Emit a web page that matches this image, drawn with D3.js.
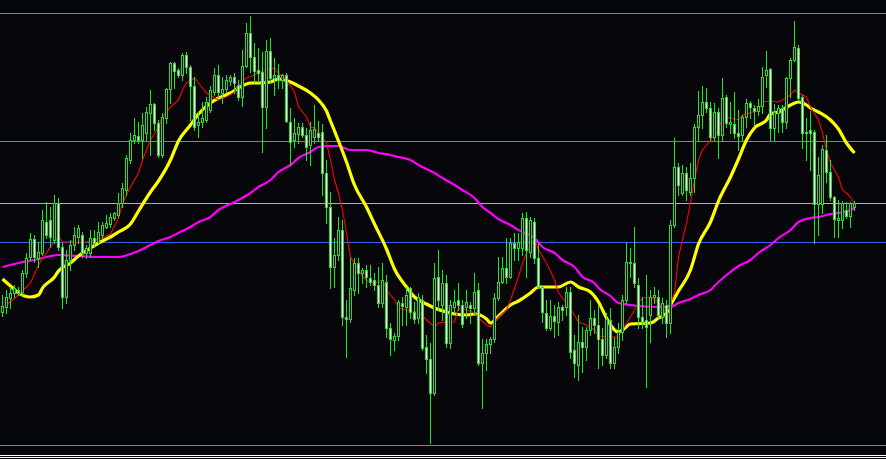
<!DOCTYPE html>
<html><head><meta charset="utf-8">
<script src="https://cdn.jsdelivr.net/npm/d3@7"></script>
<style>html,body{margin:0;padding:0;background:#07060a;overflow:hidden}svg{display:block}</style>
</head><body><svg id="chart" width="886" height="459"></svg>
<script>
// ---- Data (price in points) ----
const opens = [188,193,202,207,210,208,227,243,261,242,247,278,280,260,297,253,203,240,255,263,265,247,247,262,258,265,273,276,282,285,297,310,340,360,364,360,367,387,396,377,345,382,411,437,430,425,445,433,414,375,378,380,390,408,425,407,411,419,423,415,403,434,467,443,430,428,393,449,422,425,420,425,378,360,366,373,365,355,363,367,368,327,293,233,245,270,183,181,210,237,227,230,222,220,215,197,218,172,160,164,197,193,212,188,182,200,153,141,107,223,195,217,157,193,200,195,193,195,192,210,137,147,156,161,202,218,232,223,257,252,252,282,248,278,242,213,187,172,184,178,193,193,208,150,135,158,153,170,182,175,161,145,180,137,153,168,200,238,237,215,183,180,185,203,203,183,195,177,275,333,307,327,308,322,373,385,398,392,363,388,365,403,376,376,367,365,383,397,392,389,394,425,431,372,387,392,378,422,440,452,403,367,370,368,296,296,350,328,303,280,280,290,284,293];
const highs = [205,210,213,215,213,230,247,267,265,258,290,298,293,305,302,257,250,260,273,275,268,255,270,270,278,278,285,287,288,307,317,345,367,382,378,387,393,410,397,380,387,412,438,438,432,447,448,435,423,388,398,403,414,432,435,423,425,425,427,420,450,477,484,457,452,448,460,462,442,436,426,427,392,382,377,377,372,378,395,379,376,340,308,262,283,280,200,242,242,242,232,235,235,227,233,237,225,177,167,200,203,213,213,198,207,205,165,157,237,250,230,225,200,210,217,200,210,198,227,217,161,161,163,207,243,243,262,262,267,267,287,288,283,282,257,215,200,200,195,198,195,213,213,165,185,173,173,200,190,195,172,187,192,163,177,205,257,252,273,222,203,225,210,213,210,202,200,280,362,337,335,333,337,376,409,414,412,398,397,392,422,405,398,408,390,385,401,399,395,401,433,449,432,396,395,395,423,442,479,455,405,382,389,370,343,355,365,340,304,300,299,298,298,299];
const lows = [184,187,192,203,205,205,223,240,238,233,245,262,253,257,250,192,197,230,250,257,243,242,243,253,257,262,272,273,280,283,293,305,337,357,357,342,360,345,370,343,343,377,397,412,423,420,427,380,370,363,373,378,388,405,403,397,408,415,407,400,394,433,428,418,418,348,372,417,405,412,412,378,335,353,357,363,340,335,357,360,305,277,212,213,240,175,143,178,205,207,217,213,215,210,193,193,163,145,150,160,175,175,182,177,177,150,127,57,105,190,180,153,152,187,190,173,182,177,188,135,92,130,147,158,200,217,217,222,240,240,245,223,243,237,212,178,170,170,163,165,180,185,142,123,120,128,140,165,167,132,135,142,132,132,147,160,197,223,213,172,172,113,158,197,182,177,163,167,273,305,305,300,305,308,360,372,388,360,360,342,360,373,367,362,350,360,373,382,375,385,387,413,360,360,368,368,372,403,439,400,352,340,330,257,265,287,318,300,263,263,272,282,273,290];
const closes = [194,203,207,212,207,227,242,261,243,248,280,265,263,297,253,203,240,255,265,272,247,252,262,257,268,275,277,283,287,297,312,342,360,365,360,375,388,396,377,345,383,411,437,429,425,445,433,414,373,378,382,398,410,425,408,411,420,423,417,403,434,467,443,429,427,393,449,422,425,420,425,379,358,367,373,365,353,370,371,363,327,293,233,245,270,183,181,212,237,227,230,223,218,215,197,220,172,161,164,198,194,205,188,181,203,152,141,107,222,200,217,157,195,198,195,176,198,192,208,137,147,156,161,202,218,232,223,257,252,258,282,250,280,242,213,188,172,184,179,193,190,208,148,137,158,153,170,182,175,161,145,181,137,153,168,200,238,237,217,183,178,173,203,205,185,197,177,275,333,315,327,310,322,373,385,398,392,363,388,365,402,377,378,367,364,383,397,393,389,394,423,430,372,388,392,378,422,440,453,402,367,368,367,296,325,351,328,303,281,282,297,284,297,297];

// moving averages, read as [bar, price]
const maYellow = [[0,221],[2,214],[4,207],[7,203],[9,205],[10,212],[13,223],[14,229],[17,237],[19,244],[22,252],[24,257],[27,263],[29,268],[32,276],[34,289],[37,308],[39,319],[42,340],[44,359],[47,375],[49,386],[52,397],[54,402],[57,407],[59,412],[62,417],[64,417],[67,418],[69,421],[72,418],[74,414],[77,407],[79,400],[81,389],[82,379],[84,359],[86,338],[88,315],[91,293],[93,276],[96,251],[98,231],[101,213],[103,203],[106,196],[108,192],[111,188],[113,186],[116,185],[118,186],[121,181],[122,177],[124,184],[127,195],[129,199],[132,207],[134,213],[137,213],[139,213],[142,218],[144,213],[147,208],[149,198],[151,182],[152,175],[154,168],[155,170],[157,176],[162,177],[164,182],[166,187],[167,195],[169,209],[172,230],[174,256],[177,278],[179,299],[182,323],[184,341],[186,360],[188,372],[191,380],[192,386],[194,388],[197,395],[199,398],[201,395],[202,392],[204,388],[207,380],[209,371],[211,357],[213,347]];
const maMagenta = [[0,233],[4,237],[9,241],[12,244],[14,245],[19,244],[24,243],[29,243],[32,246],[34,249],[37,255],[39,259],[42,263],[44,267],[47,273],[49,278],[52,283],[54,290],[57,296],[59,300],[62,307],[64,313],[67,320],[69,328],[72,335],[74,342],[77,348],[79,353],[81,354],[84,354],[87,350],[91,350],[94,347],[97,345],[99,343],[102,340],[104,335],[108,327],[110,322],[113,315],[115,310],[118,302],[120,293],[122,287],[124,281],[127,275],[129,270],[133,262],[135,253],[138,247],[140,240],[143,233],[145,223],[148,217],[149,212],[152,204],[154,197],[157,195],[159,194],[164,193],[167,193],[169,197],[172,201],[174,205],[177,210],[179,218],[182,228],[184,234],[187,240],[189,247],[192,255],[194,262],[197,270],[199,278],[202,282],[204,283],[207,286],[209,287],[212,290],[213,292]];
const maRed = [[1,195],[4,205],[7,217],[9,235],[12,253],[14,264],[15,258],[16,258],[18,258],[20,257],[23,260],[25,262],[27,266],[29,282],[30,297],[32,313],[34,327],[35,340],[37,360],[39,373],[40,383],[42,393],[44,400],[45,410],[46,417],[48,422],[49,417],[51,407],[53,402],[54,400],[56,403],[58,408],[59,415],[61,422],[63,425],[64,428],[66,430],[68,432],[69,427],[71,420],[73,408],[74,393],[76,383],[77,373],[78,372],[79,367],[81,357],[82,340],[83,320],[84,307],[85,290],[86,267],[87,243],[89,230],[90,223],[92,217],[94,218],[95,220],[96,210],[98,200],[99,192],[101,190],[104,188],[106,180],[108,173],[109,177],[111,178],[113,178],[114,192],[116,190],[118,187],[119,182],[121,175],[122,173],[124,183],[126,190],[127,200],[129,223],[130,237],[131,247],[133,260],[134,250],[136,237],[138,220],[139,207],[141,197],[143,185],[144,178],[146,175],[148,170],[149,164],[151,163],[153,163],[154,163],[155,170],[156,177],[157,183],[158,190],[159,197],[160,202],[162,203],[164,198],[165,192],[166,187],[168,207],[169,243],[171,277],[172,297],[173,320],[174,340],[175,350],[177,360],[179,370],[180,383],[182,382],[184,380],[185,385],[187,387],[189,390],[190,398],[192,399],[194,398],[195,400],[197,405],[198,410],[199,407],[201,403],[202,393],[204,380],[205,367],[206,350],[207,337],[209,323],[210,310],[211,307],[212,303],[213,297]];

// horizontal price levels
const levelPrices = [487, 359, 297, 258, 55];

// ---- Styles ----
const levelColors = ["#6b7fb8", "#6b7fb8", "#86c4c4", "#2f68f0", "#6b7fb8"];
const bg = "#07060a", green = "#1ee61e";

const W = 886, H = 459;
const svg = d3.select("#chart").attr("shape-rendering", "crispEdges");
svg.append("rect").attr("width", W).attr("height", H).attr("fill", bg);

const x = d3.scaleLinear().domain([0, opens.length - 1]).range([2.5, 854.5]);
const y = d3.scaleLinear().domain([41, 500]).range([H, 0]);

// levels
svg.append("g").selectAll("line").data(levelPrices).join("line")
  .attr("x1", 0).attr("x2", W)
  .attr("y1", d => Math.round(y(d)) + 0.5).attr("y2", d => Math.round(y(d)) + 0.5)
  .attr("stroke", (d, i) => levelColors[i]).attr("stroke-width", 1);

// bottom frame
svg.append("g").selectAll("line").data([H - 4, H - 2]).join("line")
  .attr("x1", 0).attr("x2", W).attr("y1", d => d + 0.5).attr("y2", d => d + 0.5)
  .attr("stroke", "#ffffff").attr("stroke-width", 1);

// moving averages
const lineGen = curve => d3.line().x(d => x(d[0])).y(d => y(d[1])).curve(curve);
const maG = svg.append("g").attr("shape-rendering", "auto").attr("fill", "none");
maG.append("path").datum(maMagenta).attr("d", lineGen(d3.curveMonotoneX))
  .attr("stroke", "#ff00ff").attr("stroke-width", 2.2);
maG.append("path").datum(maYellow).attr("d", lineGen(d3.curveMonotoneX))
  .attr("stroke", "#ffff00").attr("stroke-width", 3.2);
maG.append("path").datum(maRed).attr("d", lineGen(d3.curveLinear))
  .attr("stroke", "#ff0000").attr("stroke-width", 1.1);

// candles
const bars = d3.range(opens.length);
const cg = svg.append("g");
cg.selectAll("line.wick").data(bars).join("line").attr("class", "wick")
  .attr("x1", i => Math.floor(x(i)) + 0.5).attr("x2", i => Math.floor(x(i)) + 0.5)
  .attr("y1", i => Math.round(y(highs[i]))).attr("y2", i => Math.round(y(lows[i])) + 1)
  .attr("stroke", green).attr("stroke-width", 1);
cg.selectAll("rect.body").data(bars).join("rect").attr("class", "body")
  .attr("x", i => Math.floor(x(i)) - 0.5)
  .attr("y", i => Math.round(y(Math.max(opens[i], closes[i]))) + 0.5)
  .attr("width", 2)
  .attr("height", i => Math.max(0, Math.round(y(Math.min(opens[i], closes[i]))) - Math.round(y(Math.max(opens[i], closes[i])))))
  .attr("fill", i => closes[i] >= opens[i] ? "#000000" : "#ffffff")
  .attr("stroke", green).attr("stroke-width", 1);
</script>
</body></html>
